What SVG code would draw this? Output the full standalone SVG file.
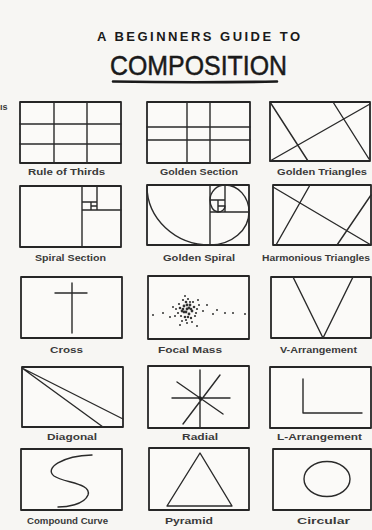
<svg xmlns="http://www.w3.org/2000/svg" width="372" height="530" viewBox="0 0 372 530">
<style>
.bg{fill:#f7f6f3}
.box{fill:#fbfaf8;stroke:#262626;stroke-width:1.8;stroke-linejoin:round}
.ln{fill:none;stroke:#2a2a2a;stroke-width:1.4;stroke-linecap:round;stroke-linejoin:round}
.lbl{font-family:"Liberation Sans",Arial,sans-serif;font-size:9px;font-weight:bold;fill:#3a3a3a}
.t1{font-family:"Liberation Sans",Arial,sans-serif;font-size:13px;font-weight:bold;fill:#1a1a1a}
.t2{font-family:"Liberation Sans",Arial,sans-serif;font-size:28px;fill:#1a1a1a;stroke:#1a1a1a;stroke-width:0.5}
.dot{fill:#333}
</style>
<rect class="bg" x="0" y="0" width="372" height="530"/>
<g id="title">
<text class="t1" x="97" y="41" textLength="203" lengthAdjust="spacing">A BEGINNERS GUIDE TO</text>
<text class="t2" x="110" y="75" textLength="177" lengthAdjust="spacingAndGlyphs">COMPOSITION</text>
<path d="M113,81.5 Q195,83 277,81.5" fill="none" stroke="#1a1a1a" stroke-width="2.6" stroke-linecap="round"/>
</g>
<text class="lbl" x="0" y="110" font-size="9px">ıs</text>

<g id="rule-of-thirds">
<rect class="box" x="20" y="102" width="101" height="61"/>
<path class="ln" d="M54,102V163M87,102V163M20,124H121M20,144H121"/>
<text class="lbl" x="28" y="175" textLength="77" lengthAdjust="spacingAndGlyphs">Rule of Thirds</text>
</g>
<g id="golden-section">
<rect class="box" x="147" y="102" width="103" height="61"/>
<path class="ln" d="M187,102V163M210,102V163M147,127H250M147,140H250"/>
<text class="lbl" x="160" y="175" textLength="78" lengthAdjust="spacingAndGlyphs">Golden Section</text>
</g>
<g id="golden-triangles">
<rect class="box" x="270" y="102" width="100" height="59"/>
<path class="ln" d="M270,161L370,104M270,102L308,161M333,102L369,159"/>
<text class="lbl" x="277" y="175" textLength="90" lengthAdjust="spacingAndGlyphs">Golden Triangles</text>
</g>

<g id="spiral-section">
<rect class="box" x="20" y="186" width="101" height="61"/>
<path class="ln" d="M82,186V247M82,210H121M97,186V210M82,202H97M91,202V210M91,206H97"/>
<text class="lbl" x="35" y="261" textLength="71" lengthAdjust="spacingAndGlyphs">Spiral Section</text>
</g>
<g id="golden-spiral">
<rect class="box" x="147" y="185" width="102" height="60"/>
<path class="ln" d="M210,185V245M210,212H249M225,185V212M210,200H225M218,200V212M218,206H225"/>
<path class="ln" d="M147,186A63,59 0 0 0 210,245A39,33 0 0 0 249,212A24,27 0 0 0 225,185A15,15 0 0 0 210,200A8,12 0 0 0 218,212A7,6 0 0 0 225,206"/>
<text class="lbl" x="163" y="261" textLength="72" lengthAdjust="spacingAndGlyphs">Golden Spiral</text>
</g>
<g id="harmonious-triangles">
<rect class="box" x="273" y="185" width="98" height="60"/>
<path class="ln" d="M273,187L371,245M310,185L276,245M371,195L337,245"/>
<text class="lbl" x="262" y="261" textLength="108" lengthAdjust="spacingAndGlyphs">Harmonious Triangles</text>
</g>

<g id="cross">
<rect class="box" x="21" y="277" width="101" height="61"/>
<path class="ln" d="M72,283V333M55,293H87"/>
<text class="lbl" x="50" y="353" textLength="33" lengthAdjust="spacingAndGlyphs">Cross</text>
</g>
<g id="focal-mass">
<rect class="box" x="148" y="276" width="101" height="63"/>
<g class="dot">
<circle cx="187" cy="309" r="1.4"/><circle cx="184" cy="306" r="1.4"/><circle cx="190" cy="305" r="1.4"/><circle cx="182" cy="311" r="1.4"/><circle cx="192" cy="311" r="1.4"/><circle cx="186" cy="302" r="1.3"/><circle cx="189" cy="314" r="1.4"/><circle cx="180" cy="308" r="1.3"/><circle cx="194" cy="307" r="1.3"/><circle cx="185" cy="317" r="1.3"/><circle cx="191" cy="318" r="1.2"/><circle cx="178" cy="313" r="1.1"/><circle cx="196" cy="313" r="1.1"/><circle cx="183" cy="300" r="1.1"/><circle cx="193" cy="302" r="1.1"/><circle cx="188" cy="299" r="1.1"/><circle cx="179" cy="304" r="1.1"/><circle cx="197" cy="309" r="1.1"/><circle cx="186" cy="320" r="1.1"/><circle cx="181" cy="316" r="1.1"/><circle cx="195" cy="316" r="1.1"/><circle cx="189" cy="308" r="1.4"/><circle cx="184" cy="312" r="1.4"/><circle cx="190" cy="302" r="1.1"/><circle cx="176" cy="309" r="1"/><circle cx="199" cy="305" r="1"/><circle cx="187" cy="323" r="1"/><circle cx="182" cy="321" r="1"/><circle cx="192" cy="322" r="1"/><circle cx="175" cy="316" r="1"/><circle cx="185" cy="296" r="1"/><circle cx="198" cy="300" r="1"/><circle cx="187" cy="305" r="1.4"/><circle cx="186" cy="312" r="1.4"/><circle cx="183" cy="309" r="1.3"/><circle cx="191" cy="309" r="1.3"/><circle cx="188" cy="317" r="1.2"/>
<circle cx="153" cy="315" r="1"/><circle cx="163" cy="313" r="1"/><circle cx="170" cy="317" r="1"/><circle cx="173" cy="307" r="1"/><circle cx="180" cy="325" r="1"/><circle cx="197" cy="326" r="1"/><circle cx="203" cy="311" r="1"/><circle cx="207" cy="305" r="1"/><circle cx="213" cy="314" r="1"/><circle cx="217" cy="310" r="1"/><circle cx="225" cy="313" r="1"/><circle cx="233" cy="313" r="1"/><circle cx="245" cy="314" r="1"/>
</g>
<text class="lbl" x="158" y="353" textLength="64" lengthAdjust="spacingAndGlyphs">Focal Mass</text>
</g>
<g id="v-arrangement">
<rect class="box" x="271" y="277" width="100" height="61"/>
<path class="ln" d="M293,277L323,338L353,277"/>
<text class="lbl" x="280" y="353" textLength="77" lengthAdjust="spacingAndGlyphs">V-Arrangement</text>
</g>

<g id="diagonal">
<rect class="box" x="22" y="367" width="101" height="60"/>
<path class="ln" d="M22,368L103,427M22,368L123,419"/>
<text class="lbl" x="47" y="440" textLength="50" lengthAdjust="spacingAndGlyphs">Diagonal</text>
</g>
<g id="radial">
<rect class="box" x="148" y="366" width="101" height="62"/>
<path class="ln" d="M200,370V427M172,398H230M177,382L223,414M220,375L183,424"/>
<circle cx="200" cy="398" r="1.8" fill="#222"/>
<text class="lbl" x="182" y="440" textLength="36" lengthAdjust="spacingAndGlyphs">Radial</text>
</g>
<g id="l-arrangement">
<rect class="box" x="270" y="367" width="101" height="61"/>
<path class="ln" d="M303,379V413H362"/>
<text class="lbl" x="277" y="440" textLength="85" lengthAdjust="spacingAndGlyphs">L-Arrangement</text>
</g>

<g id="compound-curve">
<rect class="box" x="21" y="449" width="101" height="61"/>
<path class="ln" d="M92,455C62,456 44,468 54,476C64,483 92,483 88,495C84,505 66,507 58,507"/>
<text class="lbl" x="27" y="524" textLength="81" lengthAdjust="spacingAndGlyphs">Compound Curve</text>
</g>
<g id="pyramid">
<rect class="box" x="149" y="448" width="100" height="62"/>
<path class="ln" d="M200,453L232,506L167,506Z"/>
<text class="lbl" x="165" y="524" textLength="48" lengthAdjust="spacingAndGlyphs">Pyramid</text>
</g>
<g id="circular">
<rect class="box" x="273" y="449" width="98" height="61"/>
<ellipse class="ln" cx="327" cy="479" rx="23" ry="17.5"/>
<text class="lbl" x="297" y="524" textLength="53" lengthAdjust="spacingAndGlyphs">Circular</text>
</g>
<g id="connectors"/>
</svg>
